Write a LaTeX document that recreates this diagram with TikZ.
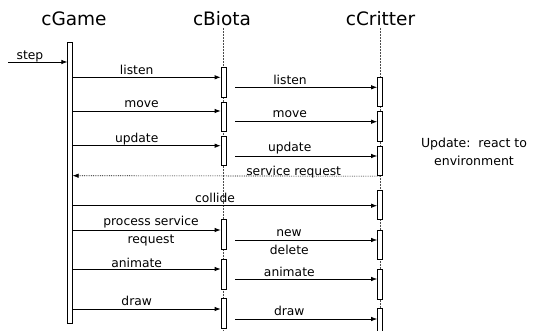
\documentclass[tikz,border=0pt]{standalone}
\usepackage{fontspec}
\setmainfont{DejaVu Sans}
\usetikzlibrary{arrows.meta}
\begin{document}
\begin{tikzpicture}[x=1pt,y=-1pt,
  bar/.style={draw, fill=white, line width=0.7pt, minimum width=5pt, inner sep=0pt, anchor=north},
  msg/.style={-{Latex[length=6pt,width=4.5pt]}, line width=0.8pt},
  reply/.style={msg, densely dotted, line width=0.6pt},
  lbl/.style={font=\fontsize{12.3}{13}\selectfont, inner sep=0pt},
  head/.style={font=\fontsize{18.5}{20}\selectfont, inner sep=0pt},
  life/.style={densely dotted, line width=0.5pt, black!70}]
\useasboundingbox (0,0) rectangle (549,331);
\newcommand\actbar[4]{\node[bar, minimum height={#4-#3}] (#1) at (#2,#3) {};}

% object headings
\node[head] (tG) at (74,19) {cGame};
\node[head] (tB) at (222,19) {cBiota};
\node[head] (tC) at (380.5,19) {cCritter};

% lifelines
\coordinate (bEnd) at (223.5,331);
\coordinate (cEnd) at (380,331);
\draw[life] (223.5,28) coordinate (bTop) -- (bEnd);
\draw[life] (380,28) coordinate (cTop) -- (cEnd);

% activation bars
\node[bar, minimum width=4.5pt, minimum height=281] (g) at (70,42) {};
\actbar{b1}{223.5}{67}{97}
\actbar{b2}{223.5}{102}{131}
\actbar{b3}{223.5}{136}{165}
\actbar{b4}{223.5}{219}{249}
\actbar{b5}{223.5}{259}{289}
\actbar{b6}{223.5}{298}{328}
\actbar{c1}{380}{76.7}{106}
\actbar{c2}{380}{111}{141}
\actbar{c3}{380}{145.7}{175.5}
\actbar{c4}{380}{190}{219}
\actbar{c5}{380}{230}{259}
\actbar{c6}{380}{269}{298.7}
\actbar{c7}{380}{308}{340}

% message levels
\coordinate (yStep) at (0,62);
\coordinate (yG1) at (0,77.3);
\coordinate (yG2) at (0,111);
\coordinate (yG3) at (0,145.7);
\coordinate (yG4) at (0,230);
\coordinate (yG5) at (0,269);
\coordinate (yG6) at (0,309);
\coordinate (yB1) at (0,87.3);
\coordinate (yB2) at (0,121.7);
\coordinate (yB3) at (0,156);
\coordinate (yB4) at (0,240);
\coordinate (yB5) at (0,279);
\coordinate (yB6) at (0,319);
\coordinate (ySR) at (0,175.7);
\coordinate (yCol) at (0,205.7);
\coordinate (stepIn) at (8,62);

% incoming step
\draw[msg] (stepIn) -- (g.west |- yStep);
\node[lbl] at (30,56) {step};

% cGame -> cBiota
\draw[msg] (g.east |- yG1) -- (b1.west |- yG1);
\draw[msg] (g.east |- yG2) -- (b2.west |- yG2);
\draw[msg] (g.east |- yG3) -- (b3.west |- yG3);
\draw[msg] (g.east |- yG4) -- (b4.west |- yG4);
\draw[msg] (g.east |- yG5) -- (b5.west |- yG5);
\draw[msg] (g.east |- yG6) -- (b6.west |- yG6);
\node[lbl] at (136.7,70) {listen};
\node[lbl] at (141.5,104.5) {move};
\node[lbl] at (136.7,139) {update};
\node[lbl] at (151,221.7) {process service};
\node[lbl] at (151,240) {request};
\node[lbl] at (136.7,262.5) {animate};
\node[lbl] at (136.7,301) {draw};

% cBiota -> cCritter
\draw[msg] ([xshift=9pt]b1.east |- yB1) -- (c1.west |- yB1);
\draw[msg] ([xshift=9pt]b2.east |- yB2) -- (c2.west |- yB2);
\draw[msg] ([xshift=9pt]b3.east |- yB3) -- (c3.west |- yB3);
\draw[msg] ([xshift=9pt]b4.east |- yB4) -- (c5.west |- yB4);
\draw[msg] ([xshift=9pt]b5.east |- yB5) -- (c6.west |- yB5);
\draw[msg] ([xshift=9pt]b6.east |- yB6) -- (c7.west |- yB6);
\node[lbl] at (290,80) {listen};
\node[lbl] at (289.7,114.5) {move};
\node[lbl] at (289.7,148.5) {update};
\node[lbl] at (289,232.7) {new};
\node[lbl] at (289.3,250) {delete};
\node[lbl] at (289.3,272) {animate};
\node[lbl] at (289.3,311) {draw};

% service request back to cGame, and collide
\draw[reply] (c3.south) -- (g.east |- ySR);
\node[lbl] at (293.7,172.5) {service request};
\draw[msg] (g.east |- yCol) -- (c4.west |- yCol);
\node[lbl] at (215,198) {collide};

% note
\node[lbl, align=center, font=\fontsize{12.5}{18}\selectfont] (note) at (474,152) {Update:\ \ react to\\environment};
\end{tikzpicture}
\end{document}
